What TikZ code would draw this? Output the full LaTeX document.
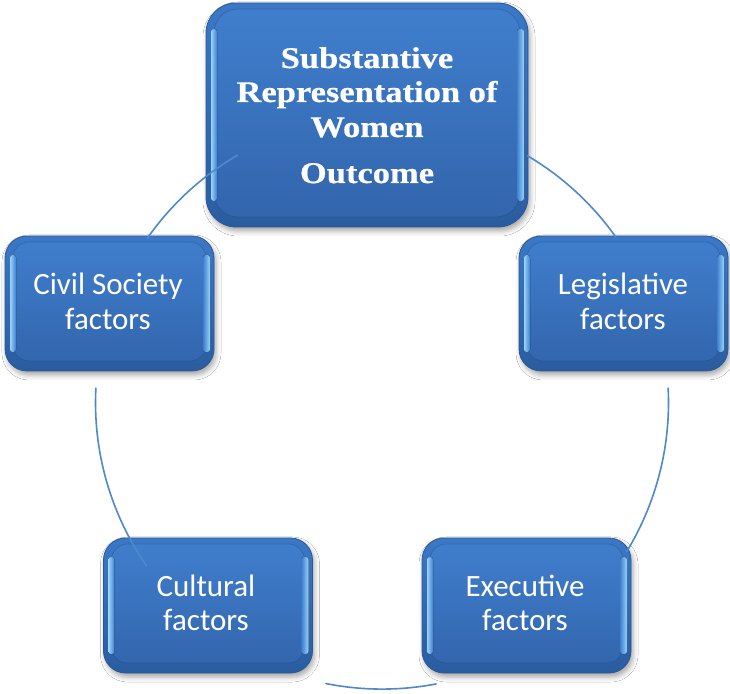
\documentclass[tikz,border=0pt]{standalone}
\usepackage{fontspec}
\newfontfamily\boxfont{Carlito}
\newfontfamily\topfont[FakeStretch=1.15,FakeBold=0.6]{Liberation Serif Bold}
\usetikzlibrary{shadows.blur}
\definecolor{boxtop}{HTML}{3B78C6}
\definecolor{boxbot}{HTML}{2A5C9F}
\definecolor{boxedge}{HTML}{2A5896}
\definecolor{rimlight}{HTML}{9AD3FA}
\definecolor{facetop}{HTML}{407FCE}
\definecolor{facebot}{HTML}{3264AB}
\definecolor{arcblue}{HTML}{4F88CC}
\tikzset{
  boxcommon/.style={rectangle, inner sep=0pt, outer sep=0pt, draw=boxedge, line width=0.8pt,
    top color=boxtop, bottom color=boxbot,
    blur shadow={shadow xshift=2pt, shadow yshift=-4pt, shadow blur radius=5pt, shadow opacity=35}},
  bevel/.style n args={2}{path picture={
      \draw[rounded corners=#1, top color=facetop, bottom color=facebot, draw=boxbot!70!black, draw opacity=0.35, line width=0.6pt]
        ([shift={(8pt,10pt)}]path picture bounding box.south west) rectangle
        ([shift={(-8pt,-6pt)}]path picture bounding box.north east);
      \fill[rounded corners=2.5pt, left color=rimlight, right color=facetop]
        ([shift={(5pt,#2)}]path picture bounding box.south west) rectangle
        ([shift={(11pt,-#2)}]path picture bounding box.north west);
      \fill[rounded corners=2.5pt, right color=rimlight, left color=facetop]
        ([shift={(-11pt,#2)}]path picture bounding box.south east) rectangle
        ([shift={(-4pt,-#2)}]path picture bounding box.north east);
    }},
  topbox/.style={boxcommon, minimum width=322pt, minimum height=224pt, rounded corners=30pt, bevel={24pt}{26pt}},
  smallbox/.style={boxcommon, minimum width=209pt, minimum height=135pt, rounded corners=22pt, bevel={16pt}{19pt}},
  toptext/.style={anchor=base, text=white, inner sep=0pt, font=\topfont\fontsize{30}{34}\selectfont},
  smalltext/.style={anchor=base, text=white, inner sep=0pt, font=\boxfont\fontsize{31}{35}\selectfont},
  arcline/.style={draw=arcblue, line width=1.6pt, line cap=round},
}
\begin{document}
\begin{tikzpicture}[x=1pt,y=1pt]
\useasboundingbox (0,0) rectangle (730,693);
\fill[white] (0,0) rectangle (730,693);
% boxes
\node[topbox] (top) at (367,578) {};
\node[smallbox] (civil) at (109.5,389.5) {};
\node[smallbox] (legis) at (623.5,389.5) {};
\node[smallbox] (cult) at (208,87.5) {};
\node[smallbox] (exec) at (526.5,87.5) {};
% texts
\node[toptext] (t1) at (367,625) {Substantive};
\node[toptext] (t2) at (367,591) {Representation of};
\node[toptext] (t3) at (367,556) {Women};
\node[toptext] (t4) at (367,510) {Outcome};
\node[smalltext] (c1) at (108,398) {Civil Society};
\node[smalltext] (c2) at (108,363) {factors};
\node[smalltext] (l1) at (623,398) {Legislative};
\node[smalltext] (l2) at (623,363) {factors};
\node[smalltext] (u1) at (206,96) {Cultural};
\node[smalltext] (u2) at (206,63) {factors};
\node[smalltext] (e1) at (525,96) {Executive};
\node[smalltext] (e2) at (525,63) {factors};
% cycle arcs
\coordinate (o) at (382,290.4);
\draw[arcline] ([shift={(59.5:286.5)}]o) arc[start angle=59.5, end angle=35.3, radius=286.5];
\draw[arcline] ([shift={(2.9:286.5)}]o) arc[start angle=2.9, end angle=-31.3, radius=286.5];
\draw[arcline] ([shift={(-79.1:286.5)}]o) arc[start angle=-79.1, end angle=-101.3, radius=286.5];
\draw[arcline] ([shift={(214.7:286.5)}]o) arc[start angle=214.7, end angle=177.1, radius=286.5];
\draw[arcline] ([shift={(145:286.5)}]o) arc[start angle=145, end angle=120.3, radius=286.5];
\end{tikzpicture}
\end{document}
